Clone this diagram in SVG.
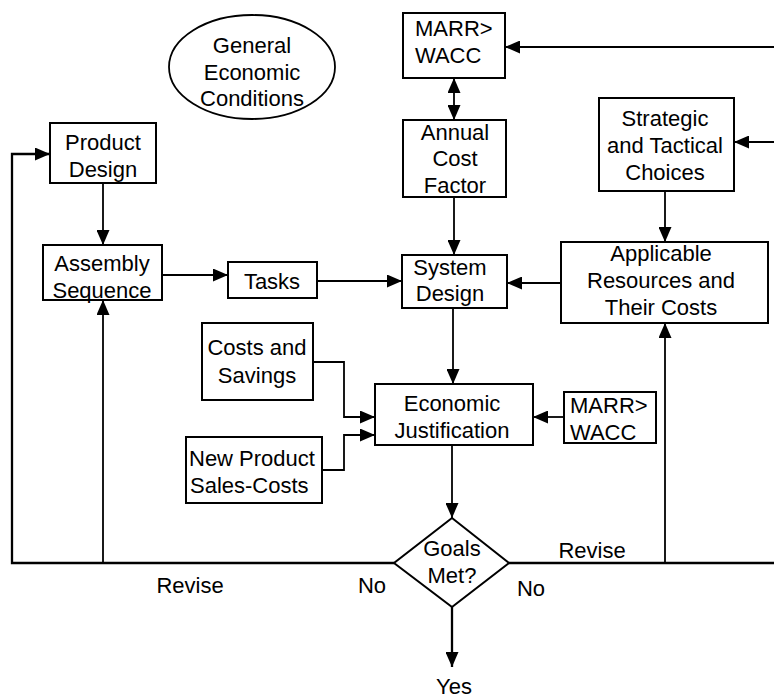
<svg xmlns="http://www.w3.org/2000/svg" width="774" height="700" viewBox="0 0 774 700">
  <style>
    .box { fill: #ffffff; stroke: #000000; stroke-width: 2; }
    .lbl { font-family: "Liberation Sans", Arial, sans-serif; font-size: 22px; fill: #000000; text-anchor: middle; }
    .left { text-anchor: start; }
    .wire { fill: none; stroke: #000000; stroke-width: 1.8; }
    .thick { stroke-width: 2.3; }
  </style>
  <defs>
    <marker id="ah" viewBox="0 0 15 13" refX="15" refY="6.5" markerWidth="15" markerHeight="13" orient="auto-start-reverse" markerUnits="userSpaceOnUse">
      <path d="M0,0 L15,6.5 L0,13 z" fill="#000000"/>
    </marker>
  </defs>
  <rect width="774" height="700" fill="#ffffff"/>

  <!-- connectors -->
  <g id="connectors">
    <path class="wire" d="M774,47 H505" marker-end="url(#ah)"/>
    <path class="wire" d="M454,78 V120" marker-start="url(#ah)" marker-end="url(#ah)"/>
    <path class="wire" d="M454,197 V255" marker-end="url(#ah)"/>
    <path class="wire" d="M774,142 H734" marker-end="url(#ah)"/>
    <path class="wire" d="M665,191 V242" marker-end="url(#ah)"/>
    <path class="wire" d="M561,283 H507" marker-end="url(#ah)"/>
    <path class="wire" d="M317,281 H402" marker-end="url(#ah)"/>
    <path class="wire" d="M162,275 H228" marker-end="url(#ah)"/>
    <path class="wire" d="M103,183 V245" marker-end="url(#ah)"/>
    <path class="wire thick" d="M394,563 H12 V154 H50" marker-end="url(#ah)"/>
    <path class="wire" d="M103,563 V300" marker-end="url(#ah)"/>
    <path class="wire" d="M453,308 V384" marker-end="url(#ah)"/>
    <path class="wire" d="M313,362 H344 V417 H375" marker-end="url(#ah)"/>
    <path class="wire" d="M322,470 H344 V435 H375" marker-end="url(#ah)"/>
    <path class="wire" d="M564,417 H533" marker-end="url(#ah)"/>
    <path class="wire" d="M452,445 V518" marker-end="url(#ah)"/>
    <path class="wire thick" d="M452,607 V667" marker-end="url(#ah)"/>
    <path class="wire thick" d="M509,563 H774"/>
    <path class="wire" d="M665,563 V323" marker-end="url(#ah)"/>
  </g>

  <!-- nodes -->
  <g id="general-economic-conditions">
    <ellipse cx="252" cy="67" rx="83" ry="52" fill="#ffffff" stroke="#000000" stroke-width="1.8"/>
    <text class="lbl" x="252" y="53">General</text>
    <text class="lbl" x="252" y="80">Economic</text>
    <text class="lbl" x="252" y="106">Conditions</text>
  </g>

  <g id="product-design">
    <rect class="box" x="50" y="123" width="106" height="60"/>
    <text class="lbl" x="103" y="150">Product</text>
    <text class="lbl" x="103" y="177">Design</text>
  </g>

  <g id="assembly-sequence">
    <rect class="box" x="43" y="245" width="119" height="55"/>
    <text class="lbl" x="102" y="271">Assembly</text>
    <text class="lbl" x="102" y="298">Sequence</text>
  </g>

  <g id="tasks">
    <rect class="box" x="228" y="262" width="89" height="36"/>
    <text class="lbl" x="272" y="289">Tasks</text>
  </g>

  <g id="marr-wacc-top">
    <rect class="box" x="403" y="13" width="102" height="65"/>
    <text class="lbl left" x="415" y="36">MARR&gt;</text>
    <text class="lbl left" x="415" y="63">WACC</text>
  </g>

  <g id="annual-cost-factor">
    <rect class="box" x="403" y="120" width="103" height="77"/>
    <text class="lbl" x="455" y="140">Annual</text>
    <text class="lbl" x="455" y="166">Cost</text>
    <text class="lbl" x="455" y="193">Factor</text>
  </g>

  <g id="system-design">
    <rect class="box" x="402" y="255" width="105" height="53"/>
    <text class="lbl" x="450" y="275">System</text>
    <text class="lbl" x="450" y="301">Design</text>
  </g>

  <g id="strategic-tactical-choices">
    <rect class="box" x="599" y="98" width="135" height="93"/>
    <text class="lbl" x="665" y="126">Strategic</text>
    <text class="lbl" x="665" y="153">and Tactical</text>
    <text class="lbl" x="665" y="180">Choices</text>
  </g>

  <g id="applicable-resources">
    <rect class="box" x="561" y="242" width="207" height="81"/>
    <text class="lbl" x="661" y="261">Applicable</text>
    <text class="lbl" x="661" y="288">Resources and</text>
    <text class="lbl" x="661" y="315">Their Costs</text>
  </g>

  <g id="costs-and-savings">
    <rect class="box" x="202" y="323" width="111" height="77"/>
    <text class="lbl" x="257" y="355">Costs and</text>
    <text class="lbl" x="257" y="383">Savings</text>
  </g>

  <g id="new-product-sales-costs">
    <rect class="box" x="186" y="437" width="136" height="66"/>
    <text class="lbl left" x="189" y="466">New Product</text>
    <text class="lbl left" x="190" y="493">Sales-Costs</text>
  </g>

  <g id="economic-justification">
    <rect class="box" x="375" y="384" width="158" height="61"/>
    <text class="lbl" x="452" y="411">Economic</text>
    <text class="lbl" x="452" y="438">Justification</text>
  </g>

  <g id="marr-wacc-lower">
    <rect class="box" x="564" y="392" width="92" height="51"/>
    <text class="lbl left" x="570" y="413">MARR&gt;</text>
    <text class="lbl left" x="570" y="440">WACC</text>
  </g>

  <g id="goals-met">
    <polygon points="452,518 509,563 452,607 394,563" fill="#ffffff" stroke="#000000" stroke-width="2"/>
    <text class="lbl" x="452" y="556">Goals</text>
    <text class="lbl" x="452" y="583">Met?</text>
  </g>

  <!-- edge labels -->
  <g id="edge-labels">
    <text class="lbl" x="190" y="593">Revise</text>
    <text class="lbl" x="372" y="593">No</text>
    <text class="lbl" x="531" y="596">No</text>
    <text class="lbl" x="592" y="558">Revise</text>
    <text class="lbl" x="454" y="694">Yes</text>
  </g>
</svg>
